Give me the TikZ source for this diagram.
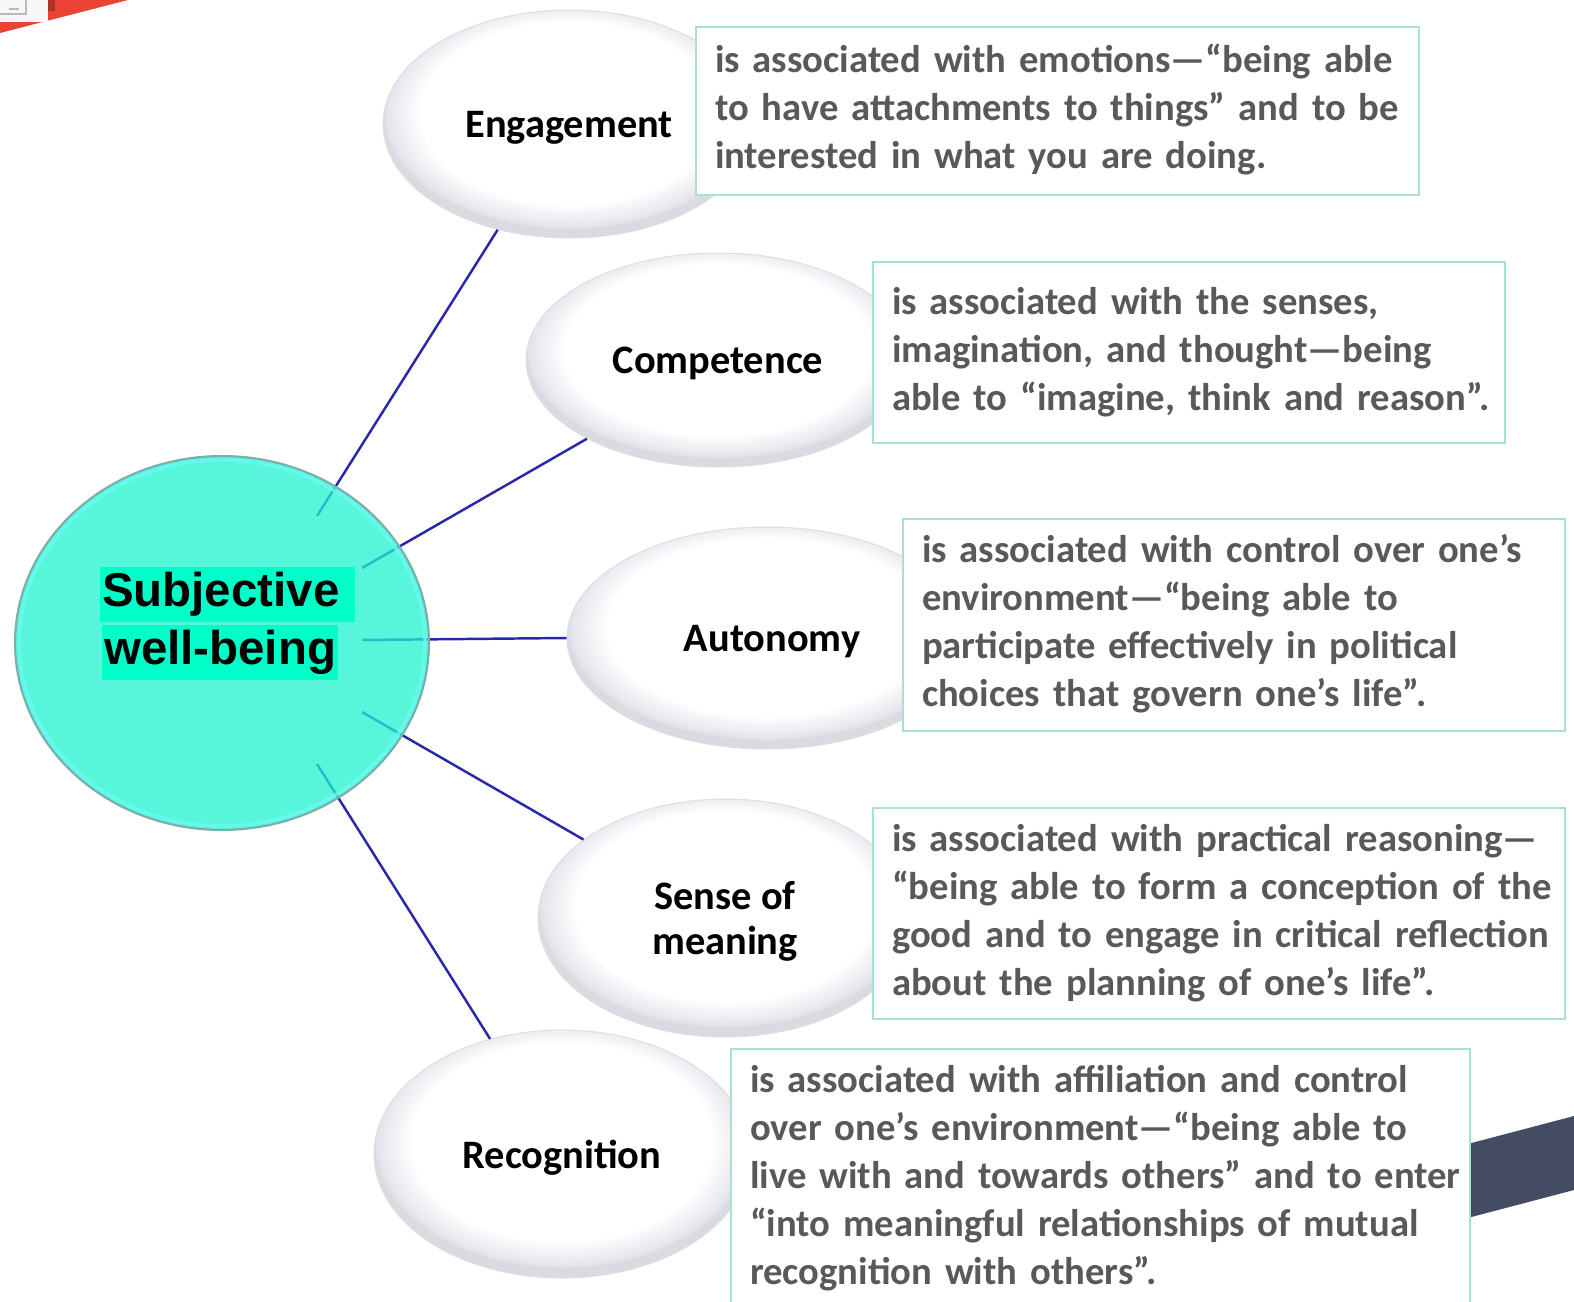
\documentclass[tikz,border=0pt]{standalone}
\usepackage{fontspec}
\setmainfont{Carlito}
\newfontfamily\headfont{Liberation Sans}
\usepackage{tikz}
\usetikzlibrary{shapes}
\definecolor{swbfill}{RGB}{32,243,208}
\definecolor{swbedge}{RGB}{120,175,168}
\definecolor{swbrim}{RGB}{110,250,245}
\definecolor{swbmark}{RGB}{0,255,200}
\definecolor{linkblue}{RGB}{40,40,170}
\definecolor{boxedge}{RGB}{168,226,205}
\definecolor{boxtext}{RGB}{89,89,89}
\definecolor{bubrim}{RGB}{228,228,236}
\definecolor{redband}{RGB}{234,67,53}
\definecolor{navybar}{RGB}{68,76,100}
\pgfdeclareradialshading{bubbleshade}{\pgfpoint{0bp}{4bp}}{color(0bp)=(white); color(20bp)=(white); color(24.5bp)=(bubrim); color(25bp)=(bubrim!90!gray); color(50bp)=(bubrim!90!gray)}
\newcommand{\notelines}[1]{\noindent\begin{tabular}{@{}l@{}}#1\end{tabular}}

\begin{document}
\begin{tikzpicture}[x=0.02cm,y=-0.02cm]
    \tikzstyle{every node}+=[inner sep=0pt]
    \tikzstyle{bubble}=[ellipse, draw=gray!25, line width=0.6pt, shading=bubbleshade, text depth=0pt, font=\fontsize{23}{26}\selectfont\bfseries, align=center]
    \tikzstyle{note}=[rectangle, draw=boxedge, line width=1.4pt, fill=white, inner xsep=0.38cm, text=boxtext, font=\fontsize{22}{27.3}\selectfont\bfseries]
    \tikzstyle{link}=[linkblue, line width=1.4pt]
    \tikzstyle{hilite}=[fill=swbmark, anchor=west, minimum height=1.1cm, inner xsep=1pt, font=\headfont\fontsize{27}{30}\selectfont\bfseries]
    \clip (0,0) rectangle (1574,1301);
    \fill [white] (0,0) rectangle (1574,1301);
    \fill [redband] (0,0) -- (128,0) -- (0,33) -- cycle;
    \fill [gray!6] (0,0) rectangle (48,22);
    \fill [redband!75!black] (48,0) rectangle (55,11);
    \draw [gray!55, line width=1.3pt] (0,14) -- (26,14) -- (26,0);
    \draw [gray!55, line width=1.3pt] (9,9) -- (19,9);
    \fill [navybar] (1460,1146) -- (1574,1116) -- (1574,1190) -- (1460,1220) -- cycle;
    \node [bubble, minimum width=7.44cm, minimum height=4.56cm] (eng) at (569,124) {Engagement};
    \node [bubble, minimum width=7.68cm, minimum height=4.28cm] (comp) at (718,360) {Competence};
    \node [bubble, minimum width=8.0cm, minimum height=4.44cm] (auto) at (767,638) {\hspace*{0.2cm}Autonomy};
    \node [bubble, minimum width=7.48cm, minimum height=4.76cm] (sense) at (725,918) {Sense of\\meaning};
    \node [bubble, minimum width=7.52cm, minimum height=4.96cm] (recog) at (562,1154) {Recognition};
    \coordinate (k1) at (317,516);
    \coordinate (k2) at (362,568);
    \coordinate (k3) at (362,640);
    \coordinate (k4) at (362,712);
    \coordinate (k5) at (317,764);
    \draw [link] (k1) -- (eng.236);
    \draw [link] (k2) -- (comp.211);
    \draw [link] (k3) -- (auto.180);
    \draw [link] (k4) -- (sense.151);
    \draw [link] (k5) -- (recog.122);
    \node [ellipse, draw=swbedge, line width=1.2pt, fill=swbfill, fill opacity=0.75, minimum width=8.28cm, minimum height=7.48cm] (swb) at (222,643) {};
    \node [ellipse, draw=swbrim, line width=2pt, draw opacity=0.7, minimum width=8.12cm, minimum height=7.32cm] (swb-rim) at (swb) {};
    \node [hilite] (swb1) at (100,594.5) {Subjective\hspace*{0.28cm}};
    \node [hilite] (swb2) at (102,652) {well-being};
    \node [note, text width=13.7cm, minimum height=3.36cm] (eng-note) at (1057.5,111) {\notelines{is associated with emotions—“being able\\to have attachments to things” and to be\\interested in what you are doing.}};
    \node [note, text width=11.88cm, minimum height=3.62cm] (comp-note) at (1189,352.5) {\notelines{is associated with the senses,\\imagination, and thought—being\\able to “imagine, think and reason”.}};
    \node [note, text width=12.48cm, minimum height=4.24cm] (auto-note) at (1234,625) {\notelines{is associated with control over one’s\\environment—“being able to\\participate effectively in political\\choices that govern one’s life”.}};
    \node [note, text width=13.08cm, minimum height=4.22cm] (sense-note) at (1219,913.5) {\notelines{is associated with practical reasoning—\\“being able to form a conception of the\\good and to engage in critical reflection\\about the planning of one’s life”.}};
    \node [note, text width=14.02cm, minimum height=5.2cm] (recog-note) at (1100.5,1179) {\notelines{is associated with affiliation and control\\over one’s environment—“being able to\\live with and towards others” and to enter\\“into meaningful relationships of mutual\\recognition with others”.}};
\end{tikzpicture}
\end{document}
